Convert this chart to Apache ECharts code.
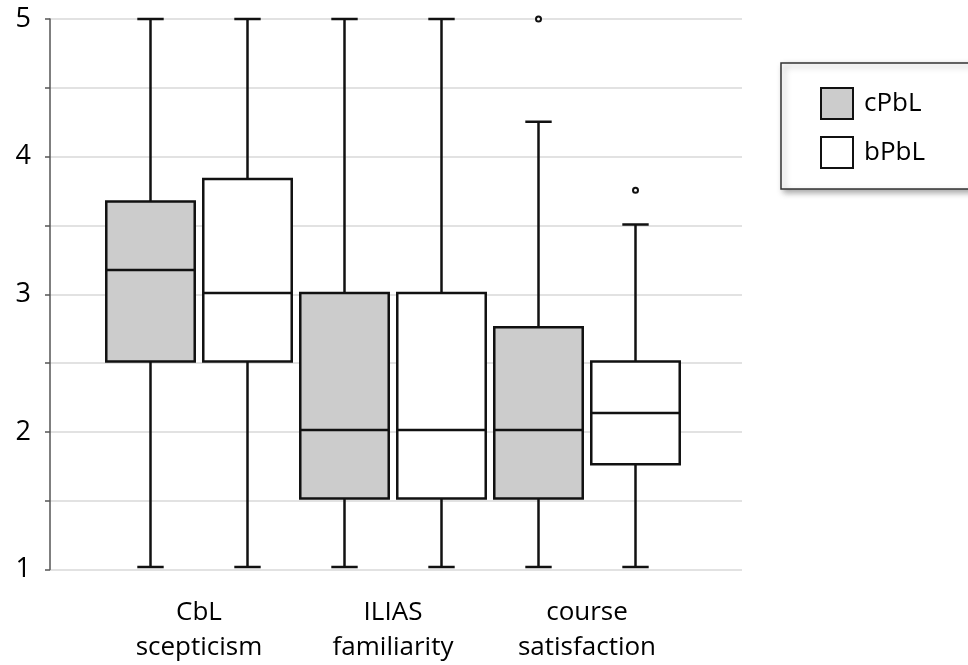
<!DOCTYPE html>
<html>
<head>
<meta charset="utf-8">
<script src="https://cdn.jsdelivr.net/npm/echarts@6/dist/echarts.min.js"></script>
<style>
  html, body { margin: 0; padding: 0; background: #fff; }
  #chart { width: 968px; height: 665px; }
</style>
</head>
<body>
<div id="chart"></div>
<script>
// categories on the x axis
const categories = ['CbL\nscepticism', 'ILIAS\nfamiliarity', 'course\nsatisfaction'];

// box stats per category: [min, Q1, median, Q3, max]
const cPbLBoxes = [
  [1, 2.5, 3.167, 3.667, 5],
  [1, 1.5, 2, 3, 5],
  [1, 1.5, 2, 2.75, 4.25]
];
const bPbLBoxes = [
  [1, 2.5, 3, 3.833, 5],
  [1, 1.5, 2, 3, 5],
  [1, 1.75, 2.125, 2.5, 3.5]
];

// outliers: [category index, value]
const cPbLOutliers = [[2, 5]];
const bPbLOutliers = [[2, 3.75]];

// y axis
const yMin = 1, yMax = 5, yStep = 0.5;
const yLabels = [1, 2, 3, 4, 5];

const lineColor = '#111';

function boxRenderer(offset, fill) {
  return function (params, api) {
    const cat = api.value(0);
    const band = api.size([1, 0])[0];
    const pMin = api.coord([cat, api.value(1)]);
    const pQ1 = api.coord([cat, api.value(2)]);
    const pMed = api.coord([cat, api.value(3)]);
    const pQ3 = api.coord([cat, api.value(4)]);
    const pMax = api.coord([cat, api.value(5)]);
    const cx = pMin[0] + offset * band;
    const hw = band * 0.228;
    const cap = band * 0.068;
    const st = { stroke: lineColor, lineWidth: 2.5 };
    return {
      type: 'group',
      children: [
        { type: 'line', shape: { x1: cx, y1: pMax[1], x2: cx, y2: pQ3[1] }, style: st },
        { type: 'line', shape: { x1: cx, y1: pQ1[1], x2: cx, y2: pMin[1] }, style: st },
        { type: 'line', shape: { x1: cx - cap, y1: pMax[1], x2: cx + cap, y2: pMax[1] }, style: st },
        { type: 'line', shape: { x1: cx - cap, y1: pMin[1], x2: cx + cap, y2: pMin[1] }, style: st },
        { type: 'rect', shape: { x: cx - hw, y: pQ3[1], width: hw * 2, height: pQ1[1] - pQ3[1] },
          style: { fill: fill, stroke: lineColor, lineWidth: 2.5 } },
        { type: 'line', shape: { x1: cx - hw, y1: pMed[1], x2: cx + hw, y2: pMed[1] }, style: st }
      ]
    };
  };
}

function outlierRenderer(offset) {
  return function (params, api) {
    const p = api.coord([api.value(0), api.value(1)]);
    const band = api.size([1, 0])[0];
    return {
      type: 'circle',
      shape: { cx: p[0] + offset * band, cy: p[1], r: 2.5 },
      style: { fill: '#fff', stroke: lineColor, lineWidth: 2 }
    };
  };
}

const chart = echarts.init(document.getElementById('chart'));

const font = '"Open Sans", Lato, sans-serif';

chart.setOption({
  animation: false,
  backgroundColor: '#fff',
  grid: [
    { left: 50, right: 226, top: 19, bottom: 95.5 },
    { left: 102, right: 284, top: 19, bottom: 95.5 }
  ],
  legend: {
    orient: 'vertical',
    left: 781,
    top: 63,
    padding: [24, 120, 20, 39],
    itemWidth: 32,
    itemHeight: 31,
    itemGap: 16,
    backgroundColor: '#fff',
    borderColor: '#333',
    borderWidth: 1.5,
    shadowColor: 'rgba(0,0,0,0.35)',
    shadowBlur: 6,
    shadowOffsetX: 3,
    shadowOffsetY: 3,
    textStyle: { fontFamily: font, fontSize: 26, color: '#000', padding: [0, 0, 0, 6] },
    data: [
      { name: 'cPbL', icon: 'rect', itemStyle: { color: '#cccccc', borderColor: lineColor, borderWidth: 2 } },
      { name: 'bPbL', icon: 'rect', itemStyle: { color: '#ffffff', borderColor: lineColor, borderWidth: 2 } }
    ]
  },
  xAxis: [
    { type: 'category', gridIndex: 0, data: categories, show: false },
    {
      type: 'category', gridIndex: 1, data: categories,
      axisLine: { show: false }, axisTick: { show: false },
      axisLabel: { fontFamily: font, fontSize: 26, color: '#000', margin: 28, lineHeight: 35 }
    }
  ],
  yAxis: [
    {
      type: 'value', gridIndex: 0, min: yMin, max: yMax, interval: yStep,
      axisLine: { show: true, lineStyle: { color: '#555', width: 1.5 } },
      axisTick: { show: true, length: 5, lineStyle: { color: '#555', width: 1.5 } },
      splitLine: { show: true, lineStyle: { color: '#d9d9d9', width: 1.5 } },
      axisLabel: {
        fontFamily: font, fontSize: 27, color: '#000', margin: 19,
        formatter: v => (yLabels.indexOf(v) >= 0 ? String(v) : '')
      }
    },
    { type: 'value', gridIndex: 1, min: yMin, max: yMax, show: false, splitLine: { show: false } }
  ],
  series: [
    {
      name: 'cPbL', type: 'custom', xAxisIndex: 1, yAxisIndex: 1,
      renderItem: boxRenderer(-0.25, '#cccccc'),
      encode: { x: 0, y: [1, 2, 3, 4, 5] },
      data: cPbLBoxes.map((d, i) => [i].concat(d)),
      z: 3
    },
    {
      name: 'bPbL', type: 'custom', xAxisIndex: 1, yAxisIndex: 1,
      renderItem: boxRenderer(0.25, '#ffffff'),
      encode: { x: 0, y: [1, 2, 3, 4, 5] },
      data: bPbLBoxes.map((d, i) => [i].concat(d)),
      z: 3
    },
    {
      name: 'cPbL', type: 'custom', xAxisIndex: 1, yAxisIndex: 1,
      renderItem: outlierRenderer(-0.25),
      encode: { x: 0, y: 1 },
      data: cPbLOutliers,
      z: 4
    },
    {
      name: 'bPbL', type: 'custom', xAxisIndex: 1, yAxisIndex: 1,
      renderItem: outlierRenderer(0.25),
      encode: { x: 0, y: 1 },
      data: bPbLOutliers,
      z: 4
    }
  ]
});
</script>
</body>
</html>
